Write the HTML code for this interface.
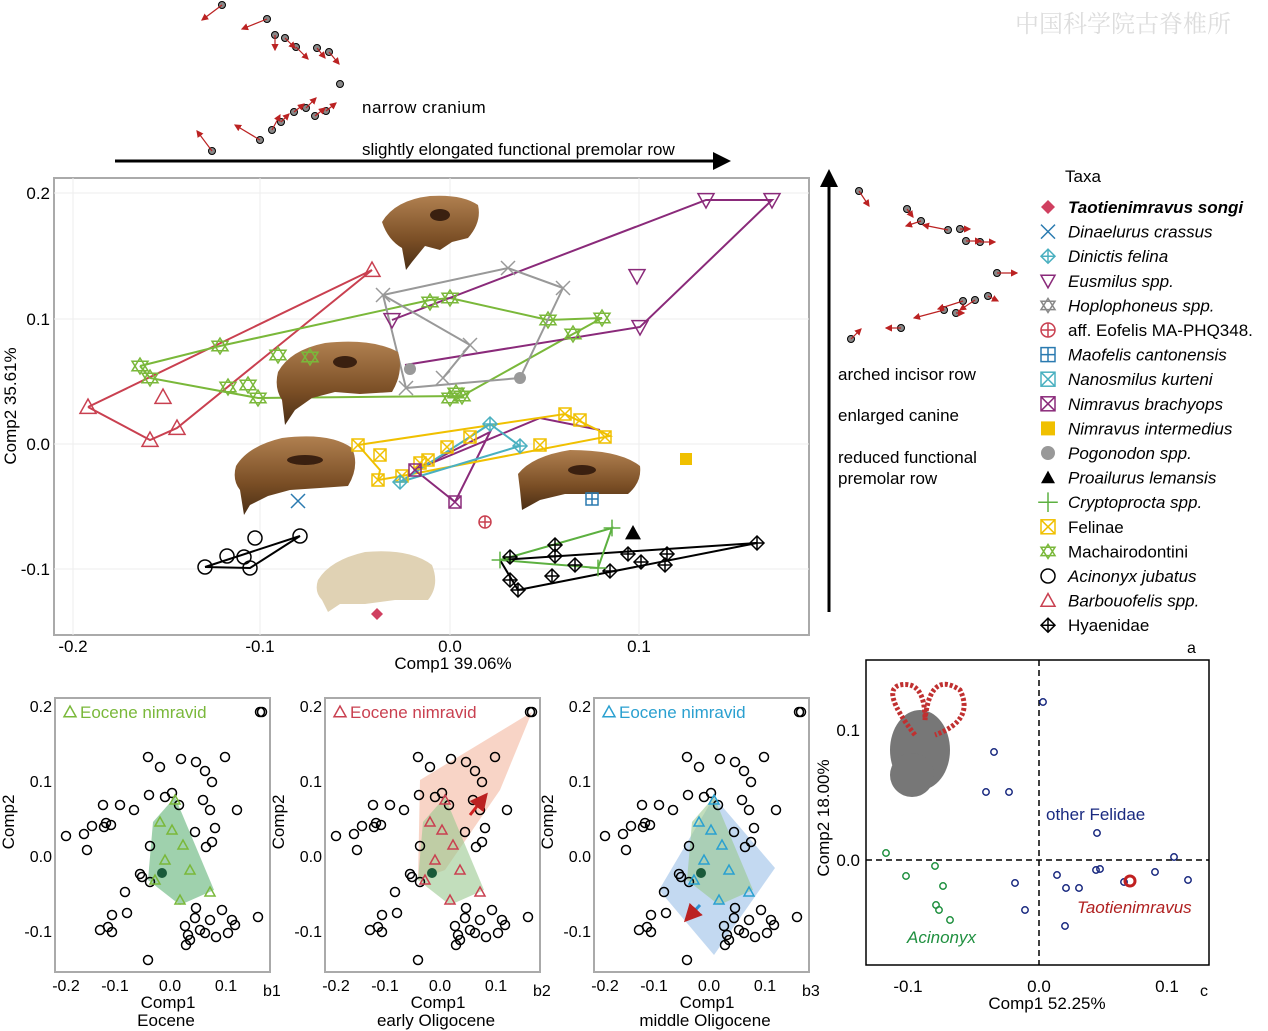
<!DOCTYPE html>
<html><head><meta charset="utf-8"><style>
body{margin:0;background:#fff;}
svg{display:block;font-family:"Liberation Sans",sans-serif;}
</style></head><body>
<svg id="s" width="1268" height="1031" viewBox="0 0 1268 1031" xmlns="http://www.w3.org/2000/svg">
<defs>
<marker id="ah" markerWidth="6" markerHeight="6" refX="5" refY="3" orient="auto"><path d="M0,0L6,3L0,6z" fill="#000"/></marker>
<marker id="rh" markerWidth="6" markerHeight="6" refX="5" refY="3" orient="auto"><path d="M0,0L6,3L0,6z" fill="#b22"/></marker>
<linearGradient id="sk" x1="0" y1="0" x2="0" y2="1"><stop offset="0" stop-color="#b08050"/><stop offset="0.6" stop-color="#7a4e25"/><stop offset="1" stop-color="#4a2e15"/></linearGradient>
</defs>
<text x="1015" y="32" font-size="24" fill="#ddd" font-family="Noto Serif CJK SC,serif">中国科学院古脊椎所</text>
<g id="lm" fill="#888" stroke="#000" stroke-width="1"></g>
<text x="362" y="113" font-size="17" letter-spacing="0.5">narrow cranium</text>
<text x="362" y="155" font-size="17">slightly elongated functional premolar row</text>
<line x1="115" y1="161" x2="728" y2="161" stroke="#000" stroke-width="3" marker-end="url(#ah)"/>
<line x1="829" y1="612" x2="829" y2="172" stroke="#000" stroke-width="3" marker-end="url(#ah)"/>
<text x="838" y="380" font-size="17">arched incisor row</text>
<text x="838" y="421" font-size="17">enlarged canine</text>
<text x="838" y="463" font-size="17">reduced functional</text>
<text x="838" y="484" font-size="17">premolar row</text>
<rect x="54" y="178" width="755" height="457" fill="none" stroke="#aaa" stroke-width="2"/>
<g stroke="#eee">
<line x1="73" y1="178" x2="73" y2="635"/><line x1="260" y1="178" x2="260" y2="635"/><line x1="450" y1="178" x2="450" y2="635"/><line x1="639" y1="178" x2="639" y2="635"/>
<line x1="54" y1="193" x2="809" y2="193"/><line x1="54" y1="319" x2="809" y2="319"/><line x1="54" y1="444" x2="809" y2="444"/><line x1="54" y1="569" x2="809" y2="569"/>
</g>
<g font-size="17" text-anchor="middle">
<text x="73" y="652">-0.2</text><text x="260" y="652">-0.1</text><text x="450" y="652">0.0</text><text x="639" y="652">0.1</text>
<text x="453" y="669">Comp1 39.06%</text>
</g>
<g font-size="17" text-anchor="end"><text x="50" y="199">0.2</text><text x="50" y="325">0.1</text><text x="50" y="450">0.0</text><text x="50" y="575">-0.1</text></g>
<text transform="translate(16,406) rotate(-90)" font-size="17" text-anchor="middle">Comp2 35.61%</text>
<g fill="none" stroke-width="2">
<polyline stroke="#c94050" points="88,407 372,270 177,428 150,440 88,407"/>
<polyline stroke="#7ab83a" points="140,366 220,346 430,300 450,298 548,320 602,318 573,334 462,396 258,398 150,378 140,366"/>
<polyline stroke="#8a2a7a" points="392,320 706,200 772,200 640,327 405,365"/>
<polyline stroke="#8a2a7a" points="415,470 490,432 455,502 415,470 540,418 600,430"/>
<polyline stroke="#999" points="383,295 508,268 563,288 520,378 406,388 383,295 470,345 443,378"/>
<polyline stroke="#f0c000" points="358,445 380,470 378,480 402,476 610,436 565,414 358,445"/>
<polyline stroke="#4ab0c0" points="490,424 400,482 520,446 490,424"/>
<polyline stroke="#000" points="205,567 300,536 250,568 205,567"/>
<polyline stroke="#000" points="500,560 757,543 518,590 500,560"/>
<polyline stroke="#5cb040" points="500,560 612,528 598,568 500,560"/>
</g>
<g fill="url(#sk)">
<path d="M382,222 Q395,200 430,196 Q462,194 478,205 Q482,222 468,238 L452,242 L440,250 L425,246 L412,262 L406,270 L402,248 Q388,240 382,222z"/>
<path d="M278,372 Q290,350 325,343 Q372,338 398,352 Q404,372 392,392 L360,394 L335,392 L312,398 L295,410 L285,425 L282,400 Q274,388 278,372z"/>
<path d="M236,466 Q248,446 282,438 Q330,432 352,448 Q360,466 348,486 L320,488 L290,490 L268,496 L250,505 L244,515 L240,490 Q232,480 236,466z"/>
<path d="M518,474 Q532,456 570,450 Q620,450 640,466 Q642,482 628,494 L600,494 L565,494 L540,500 L522,510 L520,490z"/>
</g>
<g fill="#3a2010"><ellipse cx="440" cy="215" rx="10" ry="6"/><ellipse cx="345" cy="362" rx="12" ry="6"/><ellipse cx="305" cy="460" rx="18" ry="5"/><ellipse cx="582" cy="470" rx="14" ry="5"/></g>
<path fill="#e0d2b4" d="M318,580 Q330,560 365,552 Q410,548 432,565 Q440,585 428,600 L395,600 L365,604 L340,604 L328,612 L322,600 Q314,592 318,580z"/>
<g id="mainpts"></g>
<text x="1065" y="182" font-size="17">Taxa</text>
<g id="leg" font-size="17"></g>
<text x="1187" y="653" font-size="16">a</text>
<g id="bp"></g>
<rect x="866" y="660" width="343" height="305" fill="none" stroke="#000" stroke-width="1.5"/>
<line x1="1039" y1="660" x2="1039" y2="965" stroke="#000" stroke-dasharray="6,4" stroke-width="1.5"/>
<line x1="866" y1="860" x2="1209" y2="860" stroke="#000" stroke-dasharray="6,4" stroke-width="1.5"/>
<g font-size="17" text-anchor="middle"><text x="908" y="992">-0.1</text><text x="1039" y="992">0.0</text><text x="1167" y="992">0.1</text><text x="1047" y="1009">Comp1 52.25%</text></g>
<g font-size="17" text-anchor="end"><text x="860" y="736">0.1</text><text x="860" y="866">0.0</text></g>
<text transform="translate(829,818) rotate(-90)" font-size="17" text-anchor="middle">Comp2 18.00%</text>
<text x="1200" y="996" font-size="16">c</text>
<text x="1046" y="820" font-size="17" fill="#1a2a80">other Felidae</text>
<text x="1077" y="913" font-size="17" fill="#b02020" font-style="italic">Taotienimravus</text>
<text x="907" y="943" font-size="17" fill="#209040" font-style="italic">Acinonyx</text>
<g fill="#777"><ellipse cx="920" cy="750" rx="30" ry="40"/><ellipse cx="912" cy="775" rx="22" ry="22"/></g>
<path d="M915,735 Q880,690 900,685 Q925,680 925,720 Q930,670 960,690 Q975,720 935,735" fill="none" stroke="#c03030" stroke-width="5" stroke-dasharray="3,2"/>
<g id="cp" fill="none" stroke-width="1.5"></g>
</svg>
<script>
var NS="http://www.w3.org/2000/svg";
function el(p,t,a,txt){var e=document.createElementNS(NS,t);for(var k in a)e.setAttribute(k,a[k]);if(txt)e.textContent=txt;p.appendChild(e);return e;}
var s=document.getElementById('s');
var lm=document.getElementById('lm');
[[222,5,-20,15],[267,19,-25,10],[275,35,0,15],[285,38,10,10],[296,47,12,12],[317,48,8,10],[329,52,10,12],[340,84,0,0],[212,151,-15,-20],[260,140,-25,-15],[272,130,8,-15],[281,122,8,-8],[294,112,10,-8],[306,108,10,-10],[315,116,10,-8],[326,111,10,-8],
 [859,191,10,15],[907,209,6,8],[921,221,-15,5],[948,230,-25,-5],[960,229,10,0],[966,241,15,0],[980,242,15,0],[997,273,20,0],[963,301,-25,8],[975,300,-15,10],[988,296,10,5],[944,310,-30,8],[956,313,8,0],[901,328,-15,0],[851,339,10,-10]].forEach(function(p){
 if(p[2]||p[3])el(s,'line',{x1:p[0],y1:p[1],x2:p[0]+p[2],y2:p[1]+p[3],stroke:'#b22','stroke-width':1.2,'marker-end':'url(#rh)'});
 el(lm,'circle',{cx:p[0],cy:p[1],r:3.5});});
function mk(g,type,x,y,c,sz){sz=sz||7;var a={fill:'none',stroke:c,'stroke-width':1.5};
 if(type=='tri'){el(g,'polygon',Object.assign({points:(x-sz)+','+(y+sz*0.8)+' '+(x+sz)+','+(y+sz*0.8)+' '+x+','+(y-sz)},a));}
 else if(type=='vtri'){el(g,'polygon',Object.assign({points:(x-sz)+','+(y-sz*0.8)+' '+(x+sz)+','+(y-sz*0.8)+' '+x+','+(y+sz)},a));}
 else if(type=='star'){el(g,'polygon',Object.assign({points:(x-sz)+','+(y-sz*0.6)+' '+(x+sz)+','+(y-sz*0.6)+' '+x+','+(y+sz)},a));el(g,'polygon',Object.assign({points:(x-sz)+','+(y+sz*0.6)+' '+(x+sz)+','+(y+sz*0.6)+' '+x+','+(y-sz)},a));}
 else if(type=='circ'){el(g,'circle',Object.assign({cx:x,cy:y,r:sz},a));}
 else if(type=='dia'){el(g,'polygon',Object.assign({points:x+','+(y-sz)+' '+(x+sz)+','+y+' '+x+','+(y+sz)+' '+(x-sz)+','+y},a));el(g,'path',Object.assign({d:'M'+(x-sz)+','+y+'H'+(x+sz)+'M'+x+','+(y-sz)+'V'+(y+sz)},a));}
 else if(type=='sqx'){el(g,'rect',Object.assign({x:x-sz,y:y-sz,width:2*sz,height:2*sz},a));el(g,'path',Object.assign({d:'M'+(x-sz)+','+(y-sz)+'L'+(x+sz)+','+(y+sz)+'M'+(x+sz)+','+(y-sz)+'L'+(x-sz)+','+(y+sz)},a));}
 else if(type=='sqp'){el(g,'rect',Object.assign({x:x-sz,y:y-sz,width:2*sz,height:2*sz},a));el(g,'path',Object.assign({d:'M'+(x-sz)+','+y+'H'+(x+sz)+'M'+x+','+(y-sz)+'V'+(y+sz)},a));}
 else if(type=='x'){el(g,'path',Object.assign({d:'M'+(x-sz)+','+(y-sz)+'L'+(x+sz)+','+(y+sz)+'M'+(x+sz)+','+(y-sz)+'L'+(x-sz)+','+(y+sz)},a));}
 else if(type=='plus'){el(g,'path',Object.assign({d:'M'+(x-sz*1.4)+','+y+'H'+(x+sz*1.4)+'M'+x+','+(y-sz*1.4)+'V'+(y+sz*1.4)},a));}
 else if(type=='dot'){el(g,'circle',{cx:x,cy:y,r:sz,fill:c});}
 else if(type=='ftri'){el(g,'polygon',{points:(x-sz)+','+(y+sz*0.8)+' '+(x+sz)+','+(y+sz*0.8)+' '+x+','+(y-sz),fill:c});}
 else if(type=='fdia'){el(g,'polygon',{points:x+','+(y-sz)+' '+(x+sz)+','+y+' '+x+','+(y+sz)+' '+(x-sz)+','+y,fill:c});}
 else if(type=='fsq'){el(g,'rect',{x:x-sz,y:y-sz,width:2*sz,height:2*sz,fill:c});}
 else if(type=='cplus'){el(g,'circle',Object.assign({cx:x,cy:y,r:sz},a));el(g,'path',Object.assign({d:'M'+(x-sz)+','+y+'H'+(x+sz)+'M'+x+','+(y-sz)+'V'+(y+sz)},a));}
}
var g=document.getElementById('mainpts');
[[88,407],[372,270],[177,428],[150,440],[163,397]].forEach(p=>mk(g,'tri',p[0],p[1],'#c94050',8));
[[140,366],[150,378],[220,346],[278,355],[310,357],[228,387],[248,385],[258,398],[430,302],[450,298],[548,320],[602,318],[573,334],[462,396],[450,398],[456,393]].forEach(p=>mk(g,'star',p[0],p[1],'#7ab83a',8));
[[706,200],[772,200],[637,276],[640,327],[392,320]].forEach(p=>mk(g,'vtri',p[0],p[1],'#8a2a7a',8));
[[383,295],[508,268],[563,288],[470,345],[443,378],[406,388]].forEach(p=>mk(g,'x',p[0],p[1],'#999',7));
[[410,369],[520,378]].forEach(p=>mk(g,'dot',p[0],p[1],'#999',6));
[[358,445],[380,455],[378,480],[402,476],[428,460],[447,447],[470,437],[540,445],[565,414],[580,420],[605,437],[420,463]].forEach(p=>mk(g,'sqx',p[0],p[1],'#f0c000',6));
[[415,470],[455,502]].forEach(p=>mk(g,'sqx',p[0],p[1],'#8a2a7a',6));
[[490,424],[400,482],[520,446]].forEach(p=>mk(g,'dia',p[0],p[1],'#4ab0c0',7));
mk(g,'x',298,501,'#2a7ab0',7);mk(g,'sqp',592,499,'#2a7ab0',6);mk(g,'cplus',485,522,'#c94050',6);
mk(g,'ftri',633,533,'#000',8);mk(g,'fsq',686,459,'#f0c000',6);mk(g,'fdia',377,614,'#d04060',6);
[[205,567],[227,556],[244,557],[250,568],[255,538],[300,536]].forEach(p=>mk(g,'circ',p[0],p[1],'#000',7));
[[510,557],[510,580],[518,590],[555,545],[555,556],[552,576],[575,565],[610,571],[628,554],[641,562],[667,554],[665,565],[757,543]].forEach(p=>mk(g,'dia',p[0],p[1],'#000',7));
[[612,528],[598,568],[500,560]].forEach(p=>mk(g,'plus',p[0],p[1],'#5cb040',6));
var leg=document.getElementById('leg');
var L=[['fdia','#d04060','Taotienimravus  songi','bi'],['x','#2a7ab0','Dinaelurus crassus','i'],['dia','#4ab0c0','Dinictis felina','i'],['vtri','#8a2a7a','Eusmilus spp.','i'],['star','#888','Hoplophoneus  spp.','i'],['cplus','#c94050','aff. Eofelis MA-PHQ348.',''],['sqp','#2a7ab0','Maofelis cantonensis','i'],['sqx','#4ab0c0','Nanosmilus kurteni','i'],['sqx','#8a2a7a','Nimravus brachyops','i'],['fsq','#f0c000','Nimravus intermedius','i'],['dot','#999','Pogonodon spp.','i'],['ftri','#000','Proailurus lemansis','i'],['plus','#5cb040','Cryptoprocta spp.','i'],['sqx','#f0c000','Felinae',''],['star','#7ab83a','Machairodontini',''],['circ','#000','Acinonyx jubatus','i'],['tri','#c94050','Barbouofelis spp.','i'],['dia','#000','Hyaenidae','']];
L.forEach(function(r,i){var y=207+i*24.6;mk(leg,r[0],1048,y,r[1],7);
 var t=el(leg,'text',{x:1068,y:y+6},r[2]);if(r[3].indexOf('i')>=0)t.setAttribute('font-style','italic');if(r[3]=='bi')t.setAttribute('font-weight','bold');});
var bp=document.getElementById('bp');
var C=[[262,712],[260,712],[148,757],[181,759],[160,767],[196,762],[205,771],[225,757],[212,782],[66,836],[84,834],[87,850],[92,826],[103,805],[120,805],[134,810],[106,823],[111,825],[104,827],[149,795],[165,797],[172,793],[179,805],[203,800],[210,810],[237,810],[215,828],[212,842],[206,847],[195,832],[140,874],[150,882],[142,877],[125,892],[112,915],[127,913],[100,930],[108,927],[112,932],[196,908],[185,926],[190,940],[200,930],[210,920],[222,910],[232,920],[228,933],[216,937],[205,933],[188,935],[148,960],[258,917],[150,846],[195,918],[235,925],[186,945]];
var P=[{o:0,c:'#7ab83a',t:'b1',e:'Eocene',poly:[[175,797],[153,822],[148,880],[180,905],[214,890]],fill:'#2a9a4a'},
{o:270,c:'#c94050',t:'b2',e:'early Oligocene',poly:[[150,780],[262,712],[262,712],[230,790],[175,870],[148,880]],fill:'#f0a080'},
{o:539,c:'#2aa0d0',t:'b3',e:'middle Oligocene',poly:[[175,797],[236,868],[175,955],[120,890]],fill:'#7aaae0'}];
P.forEach(function(p,i){var o=p.o,gg=el(bp,'g',{});
 el(gg,'polygon',{points:p.poly.map(q=>(q[0]+o)+','+q[1]).join(' '),fill:p.fill,opacity:0.45});
 if(i>0)el(gg,'polygon',{points:[[175,797],[153,822],[148,880],[180,905],[214,890]].map(q=>(q[0]+o)+','+q[1]).join(' '),fill:'#9ac890',opacity:0.6});
 el(gg,'rect',{x:55+o,y:698,width:215,height:274,fill:'none',stroke:'#aaa','stroke-width':2});
 C.forEach(q=>el(gg,'circle',{cx:q[0]+o,cy:q[1],r:4.5,fill:'none',stroke:'#000','stroke-width':1.5}));
 [[175,800],[160,822],[172,830],[183,845],[165,860],[190,870],[155,880],[180,900],[210,892]].forEach(q=>mk(gg,'tri',q[0]+o,q[1],p.c,5));
 el(gg,'circle',{cx:162+o,cy:873,r:5,fill:'#1a5a3a'});
 mk(gg,'tri',70+o,712,p.c,6);
 el(gg,'text',{x:80+o,y:718,'font-size':17,fill:p.c},'Eocene nimravid');
 [['-0.2',66],['-0.1',115],['0.0',170],['0.1',226]].forEach(t=>el(gg,'text',{x:t[1]+o,y:991,'font-size':16,'text-anchor':'middle'},t[0]));
 [['0.2',712],['0.1',787],['0.0',862],['-0.1',937]].forEach(t=>el(gg,'text',{x:52+o,y:t[1],'font-size':16,'text-anchor':'end'},t[0]));
 el(gg,'text',{x:168+o,y:1008,'font-size':17,'text-anchor':'middle'},'Comp1');
 el(gg,'text',{x:166+o,y:1026,'font-size':17,'text-anchor':'middle'},p.e);
 el(gg,'text',{x:263+o,y:996,'font-size':16},p.t);
 el(gg,'text',{'font-size':17,'text-anchor':'middle',transform:'translate('+(14+o)+',822) rotate(-90)'},'Comp2');
});
el(bp,'line',{x1:470,y1:815,x2:486,y2:795,stroke:'#d02020','stroke-width':3,'marker-end':'url(#rh)'});
el(bp,'line',{x1:700,y1:905,x2:686,y2:920,stroke:'#2a90d0','stroke-width':3,'marker-end':'url(#rh)'});
var cp=document.getElementById('cp');
[[1043,702],[994,752],[986,792],[1009,792],[1097,833],[1025,910],[1015,883],[1057,875],[1066,888],[1079,888],[1096,870],[1100,869],[1124,882],[1155,872],[1174,857],[1188,880],[1065,926]].forEach(q=>el(cp,'circle',{cx:q[0],cy:q[1],r:3.2,stroke:'#1a2a80'}));
[[886,853],[906,876],[935,866],[943,886],[936,905],[939,910],[950,920]].forEach(q=>el(cp,'circle',{cx:q[0],cy:q[1],r:3.2,stroke:'#209040'}));
el(cp,'circle',{cx:1130,cy:881,r:5,stroke:'#c02020','stroke-width':3});
</script>
</body></html>
